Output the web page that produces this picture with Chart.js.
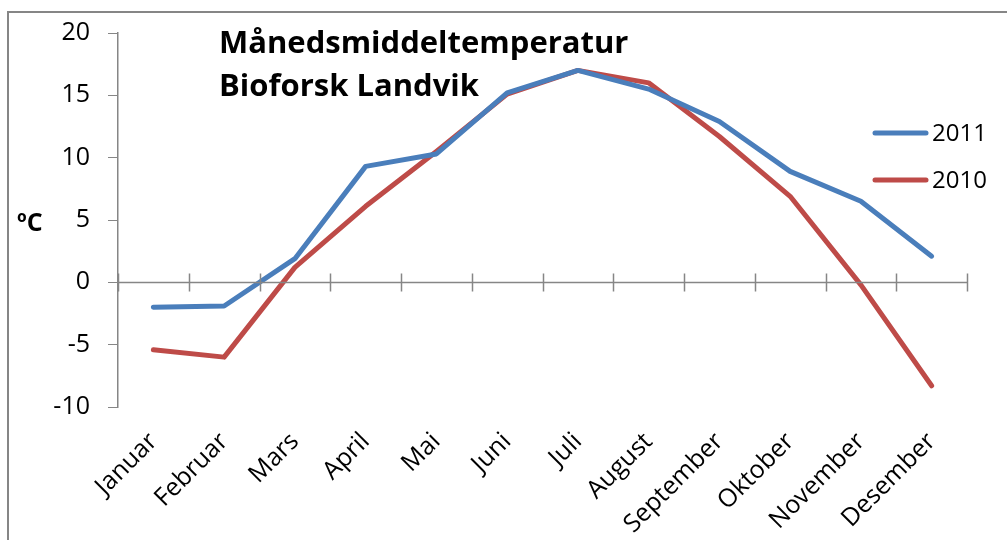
<!DOCTYPE html>
<html>
<head>
<meta charset="utf-8">
<script src="https://cdn.jsdelivr.net/npm/chart.js@4.4.1/dist/chart.umd.min.js"></script>
<style>
  html, body { margin: 0; padding: 0; background: #fff; }
  #wrap { width: 1007px; height: 540px; position: relative; }
</style>
</head>
<body>
<div id="wrap"><canvas id="chart" width="1007" height="540"></canvas></div>
<script>
const months = ['Januar', 'Februar', 'Mars', 'April', 'Mai', 'Juni', 'Juli', 'August', 'September', 'Oktober', 'November', 'Desember'];
const temp2011 = [-2.0, -1.9, 1.9, 9.3, 10.3, 15.2, 17.0, 15.5, 12.9, 8.9, 6.5, 2.1];
const temp2010 = [-5.4, -6.0, 1.2, 6.1, 10.5, 15.1, 17.0, 16.0, 11.7, 6.9, -0.2, -8.3];
const titleLines = ['Månedsmiddeltemperatur', 'Bioforsk Landvik'];
const yUnit = 'ºC';

const FONT = '"Open Sans", "Liberation Sans", sans-serif';
const GREY = '#868686';

// ramme, tittel, enhet, nullinje og legende
const decorations = {
    id: 'decorations',
    afterDraw(chart) {
        const ctx = chart.ctx;
        const area = chart.chartArea;
        const y = chart.scales.y;
        ctx.save();

        // ytre ramme (topp og venstre)
        ctx.strokeStyle = GREY;
        ctx.lineWidth = 2;
        ctx.beginPath();
        ctx.moveTo(8, 540);
        ctx.lineTo(8, 12);
        ctx.lineTo(1007, 12);
        ctx.stroke();

        // nullinje med kryssende merker
        const y0 = Math.round(y.getPixelForValue(0)) + 0.5;
        ctx.lineWidth = 1.5;
        ctx.beginPath();
        ctx.moveTo(area.left, y0);
        ctx.lineTo(area.right, y0);
        const step = area.width / months.length;
        for (let i = 0; i <= months.length; i++) {
            const px = Math.round(area.left + i * step) + 0.5;
            ctx.moveTo(px, y0 - 9);
            ctx.lineTo(px, y0 + 9);
        }
        ctx.stroke();

        // tittel
        ctx.fillStyle = '#000';
        ctx.font = 'bold 31px ' + FONT;
        ctx.textAlign = 'left';
        ctx.textBaseline = 'alphabetic';
        ctx.fillText(titleLines[0], 219, 53);
        ctx.fillText(titleLines[1], 219, 96);

        // enhet
        ctx.font = 'bold 25px ' + FONT;
        ctx.fillText(yUnit, 17, 231);

        // legende
        ctx.font = '24px ' + FONT;
        ctx.textBaseline = 'middle';
        chart.data.datasets.forEach((ds, i) => {
            const ly = 133 + i * 47;
            ctx.strokeStyle = ds.borderColor;
            ctx.lineWidth = 5;
            ctx.lineCap = 'round';
            ctx.beginPath();
            ctx.moveTo(875, ly);
            ctx.lineTo(926, ly);
            ctx.stroke();
            ctx.fillStyle = '#000';
            ctx.fillText(ds.label, 932, ly + 1);
        });
        ctx.restore();
    }
};

new Chart(document.getElementById('chart').getContext('2d'), {
    type: 'line',
    data: {
        labels: months,
        datasets: [{
            label: '2011',
            data: temp2011,
            borderColor: '#4A7EBB',
            borderWidth: 5,
            pointRadius: 0,
            borderCapStyle: 'round',
            borderJoinStyle: 'round',
            tension: 0
        }, {
            label: '2010',
            data: temp2010,
            borderColor: '#BE4B48',
            borderWidth: 5,
            pointRadius: 0,
            borderCapStyle: 'round',
            borderJoinStyle: 'round',
            tension: 0
        }]
    },
    options: {
        responsive: false,
        animation: false,
        layout: { padding: { left: 0, top: 30, right: 40, bottom: 0 } },
        plugins: {
            legend: { display: false },
            title: { display: false },
            tooltip: { enabled: false }
        },
        scales: {
            x: {
                offset: true,
                border: { display: false },
                grid: { display: false, drawTicks: false },
                ticks: {
                    color: '#000',
                    font: { family: FONT, size: 25 },
                    minRotation: 45,
                    maxRotation: 45,
                    padding: 20,
                    autoSkip: false
                },
                afterFit(scale) { scale.height = 133; }
            },
            y: {
                min: -10,
                max: 20,
                border: { display: true, color: GREY, width: 1.5 },
                grid: { drawOnChartArea: false, drawTicks: true, tickLength: 10, color: GREY },
                ticks: {
                    stepSize: 5,
                    color: '#000',
                    font: { family: FONT, size: 25 },
                    padding: 18
                },
                afterFit(scale) { scale.width = 118; }
            }
        }
    },
    plugins: [decorations]
});
</script>
</body>
</html>
